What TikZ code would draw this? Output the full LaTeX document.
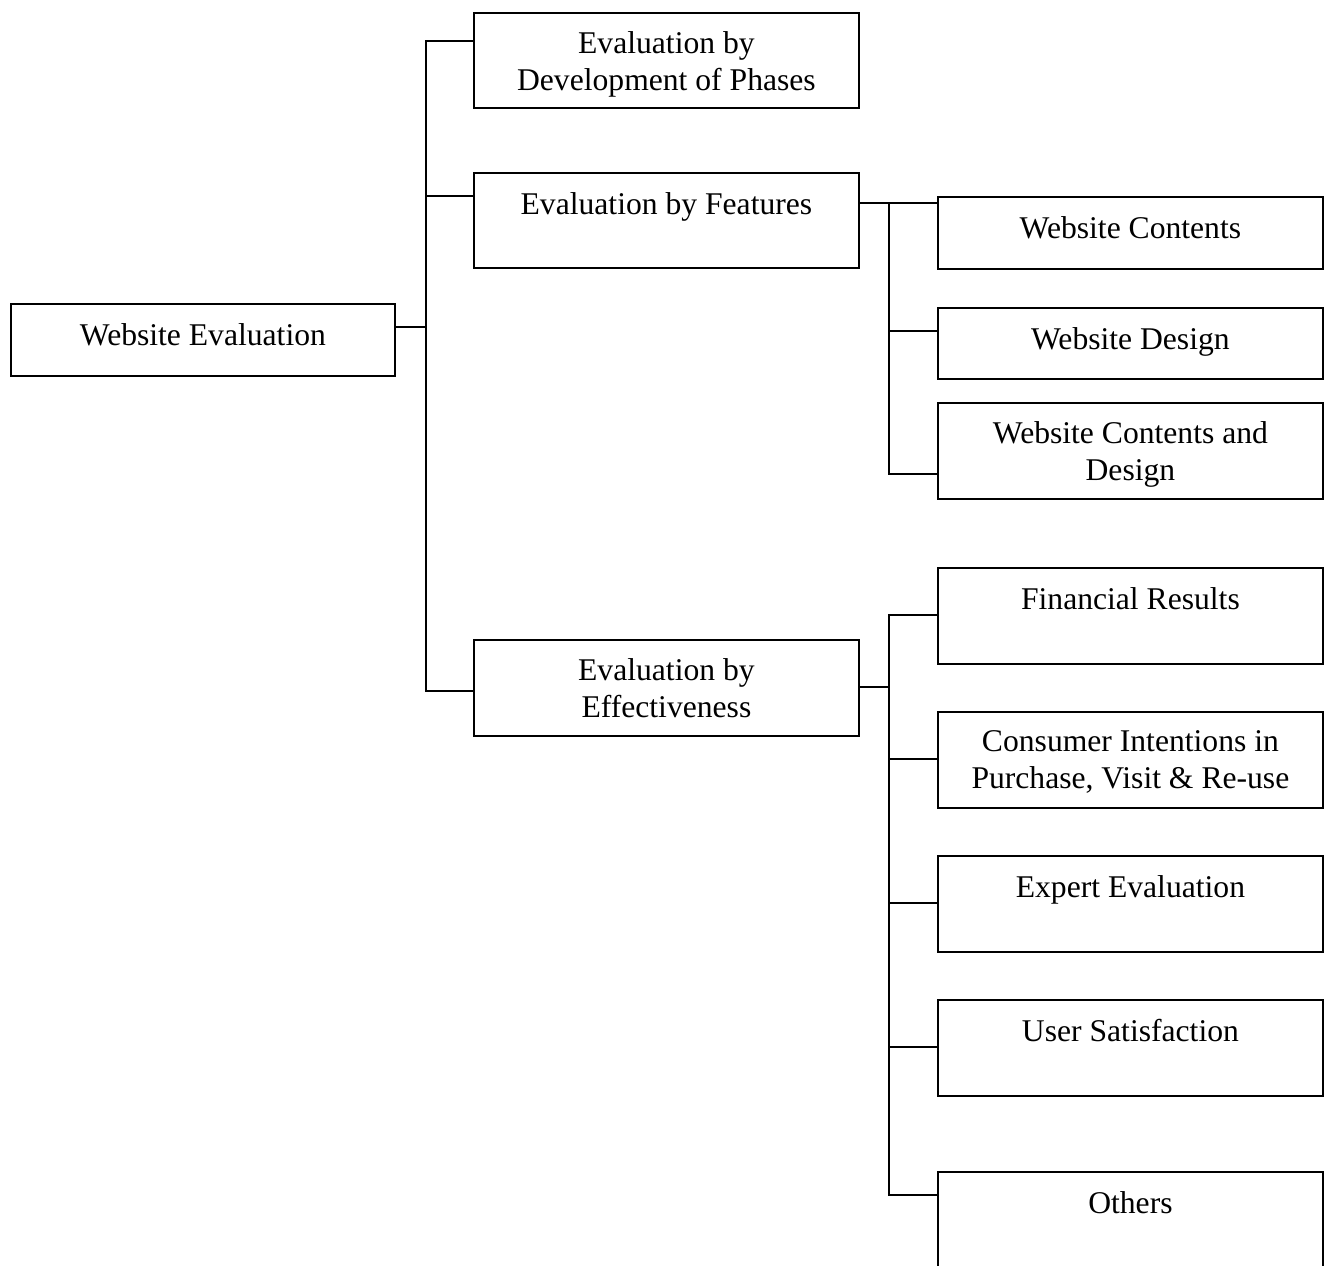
\documentclass[tikz,border=0pt]{standalone}
\usepackage{fontspec}
\setmainfont{Liberation Serif}
\usepackage{tikz}
\usetikzlibrary{positioning, calc}

\tikzset{
  box/.style={draw, line width=1.1pt, minimum width=7.7cm, anchor=north west, inner sep=0pt},
  boxtext/.style={font=\fontsize{18}{21}\selectfont, align=center, inner sep=0pt,
    anchor=north, yshift=-0.32cm, execute at begin node=\strut},
  twolines/.style={boxtext, yshift=-0.07cm},
  link/.style={line width=1.1pt}
}

\begin{document}
\begin{tikzpicture}[x=0.02cm, y=-0.02cm]
      \clip (0,0) rectangle (1330,1266);
      % Root
      \node[box, minimum height=1.44cm, minimum width=7.68cm,
        label={[boxtext]north:Website Evaluation}] (root) at (10,303) {};
      % Second level
      \node[box, minimum height=1.9cm,
        label={[twolines]north:Evaluation by\\Development of Phases}] (phases) at (473,12) {};
      \node[box, minimum height=1.9cm,
        label={[boxtext]north:Evaluation by Features}] (feat) at (473,172) {};
      \node[box, minimum height=1.92cm,
        label={[twolines]north:Evaluation by\\Effectiveness}] (effect) at (473,639) {};
      % Features
      \node[box, minimum height=1.44cm,
        label={[boxtext]north:Website Contents}] (contents) at (937,196) {};
      \node[box, minimum height=1.42cm,
        label={[boxtext]north:Website Design}] (design) at (937,307) {};
      \node[box, minimum height=1.92cm,
        label={[twolines]north:Website Contents and\\Design}] (both) at (937,402) {};
      % Effectiveness
      \node[box, minimum height=1.92cm,
        label={[boxtext]north:Financial Results}] (finance) at (937,567) {};
      \node[box, minimum height=1.92cm,
        label={[twolines]north:Consumer Intentions in\\Purchase, Visit \& Re-use}] (intent) at (937,711) {};
      \node[box, minimum height=1.92cm,
        label={[boxtext]north:Expert Evaluation}] (expert) at (937,855) {};
      \node[box, minimum height=1.92cm,
        label={[boxtext]north:User Satisfaction}] (usersat) at (937,999) {};
      \node[box, minimum height=2.4cm,
        label={[boxtext]north:Others}] (others) at (937,1171) {};

      % Tree lines
      \draw[link] (root.east |- 0,327) -- (426,327);
      \draw[link] (phases.west |- 0,41) -- (426,41) -- (426,691) -- (effect.west |- 0,691);
      \draw[link] (426,196) -- (feat.west |- 0,196);
      \draw[link] (feat.east |- 0,203) -- (contents.west |- 0,203);
      \draw[link] (889,203) -- (889,474) -- (both.west |- 0,474);
      \draw[link] (889,331) -- (design.west |- 0,331);
      \draw[link] (effect.east |- 0,687) -- (889,687);
      \draw[link] (finance.west |- 0,615) -- (889,615) -- (889,1195) -- (others.west |- 0,1195);
      \foreach \n/\y in {intent/759, expert/903, usersat/1047} {
        \draw[link] (889,\y) -- (\n.west |- 0,\y);
      }
    \end{tikzpicture}
\end{document}
